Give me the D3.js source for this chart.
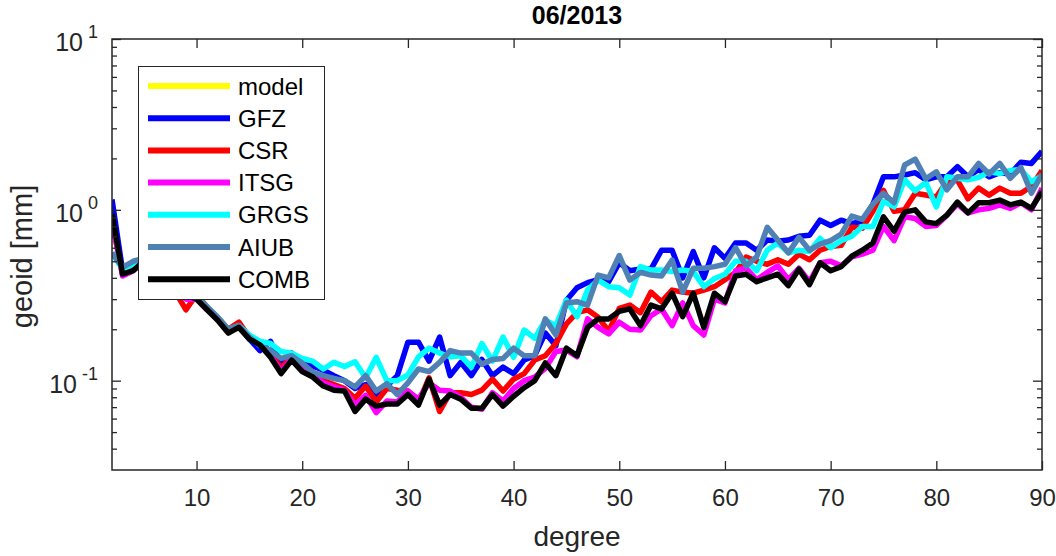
<!DOCTYPE html>
<html>
<head>
<meta charset="utf-8">
<script src="https://cdn.jsdelivr.net/npm/d3@7"></script>
<style>
  body { margin: 0; background: #fff; }
  svg { display: block; font-family: "Liberation Sans", Arial, Helvetica, sans-serif; }
</style>
</head>
<body>
<svg id="chart" width="1056" height="556"></svg>
<script>
// --- data ---
const title = '06/2013';
const xLabel = 'degree';
const yLabel = 'geoid [mm]';

const seriesNames = ['model', 'GFZ', 'CSR', 'ITSG', 'GRGS', 'AIUB', 'COMB'];
const seriesColors = ['#ffff00', '#0000ff', '#ff0000', '#ff00ff', '#00ffff', '#4f81b5', '#000000'];

const firstDegree = 2;          // degree of the first value in each series
const xDomain = [2, 90];
const yDomain = [0.03, 10];
const xTickValues = [10, 20, 30, 40, 50, 60, 70, 80, 90];
const yMajorTicks = [0.1, 1, 10];
const yTickExponents = ['-1', '0', '1'];
const yMinorTicks = [0.04, 0.05, 0.06, 0.07, 0.08, 0.09,
  0.2, 0.3, 0.4, 0.5, 0.6, 0.7, 0.8, 0.9,
  2, 3, 4, 5, 6, 7, 8, 9];

// model is in the legend but no curve of it shows in the figure
const model = [];

const gfz = [
  1.15, 0.44, 0.46, 0.5, 0.5, 0.45, 0.37, 0.31, 0.31, 0.27,
  0.23, 0.2, 0.21, 0.175, 0.15, 0.17, 0.125, 0.145, 0.125, 0.122,
  0.115, 0.107, 0.1, 0.09, 0.095, 0.083, 0.093, 0.107, 0.168, 0.168,
  0.13, 0.18, 0.107, 0.128, 0.107, 0.133, 0.107, 0.12, 0.11, 0.132,
  0.14, 0.19, 0.16, 0.296, 0.35, 0.375, 0.39, 0.38, 0.49, 0.44,
  0.45, 0.45, 0.58, 0.58, 0.40, 0.57, 0.40, 0.6, 0.52, 0.64,
  0.64, 0.58, 0.666, 0.655, 0.666, 0.70, 0.71, 0.87, 0.81, 0.87,
  0.83, 0.86, 1.08, 1.56, 1.56, 1.6, 1.65, 1.5, 1.56, 1.56,
  1.79, 1.56, 1.72, 1.56, 1.65, 1.62, 1.9, 1.87, 2.2
];

const csr = [
  0.85, 0.42, 0.45, 0.5, 0.5, 0.44, 0.33, 0.26, 0.32, 0.27,
  0.235, 0.2, 0.22, 0.18, 0.165, 0.145, 0.118, 0.14, 0.125, 0.112,
  0.1, 0.095, 0.09, 0.079, 0.093, 0.075, 0.09, 0.088, 0.087, 0.074,
  0.104, 0.066, 0.085, 0.085, 0.083, 0.088, 0.102, 0.087, 0.102, 0.11,
  0.132, 0.14, 0.165, 0.215, 0.25, 0.26, 0.235, 0.195, 0.265, 0.277,
  0.25, 0.33, 0.29, 0.339, 0.33, 0.325, 0.339, 0.355, 0.39, 0.43,
  0.53, 0.5, 0.48, 0.51, 0.48, 0.55, 0.51, 0.58, 0.61, 0.62,
  0.79, 0.78, 0.98, 1.3, 0.98, 1.0, 1.25, 1.22, 1.19, 1.47,
  1.49, 1.16, 1.34, 1.22, 1.34, 1.25, 1.25, 1.37, 1.7
];

const itsg = [
  0.88, 0.41, 0.44, 0.5, 0.5, 0.45, 0.36, 0.3, 0.30, 0.26,
  0.23, 0.195, 0.21, 0.178, 0.165, 0.14, 0.113, 0.135, 0.118, 0.108,
  0.097, 0.092, 0.088, 0.072, 0.082, 0.065, 0.076, 0.075, 0.087, 0.078,
  0.097, 0.088, 0.087, 0.08, 0.07, 0.068, 0.085, 0.076, 0.09, 0.1,
  0.105, 0.118, 0.148, 0.151, 0.138, 0.23, 0.205, 0.188, 0.22, 0.2,
  0.198, 0.24, 0.263, 0.21, 0.285, 0.21, 0.185, 0.3, 0.285, 0.44,
  0.455, 0.39, 0.43, 0.47, 0.39, 0.455, 0.38, 0.49, 0.5, 0.47,
  0.53, 0.55, 0.58, 0.8, 0.66, 0.91, 0.89, 0.8, 0.81, 0.93,
  1.08, 0.96, 1.0, 1.02, 1.07, 1.02, 1.1, 1.0, 1.34
];

const grgs = [
  0.56, 0.45, 0.48, 0.5, 0.5, 0.45, 0.37, 0.31, 0.31, 0.27,
  0.235, 0.2, 0.21, 0.185, 0.17, 0.165, 0.148, 0.145, 0.135, 0.13,
  0.117, 0.128, 0.121, 0.129, 0.104, 0.137, 0.1, 0.1, 0.108, 0.138,
  0.155, 0.145, 0.138, 0.14, 0.12, 0.165, 0.13, 0.18, 0.137, 0.198,
  0.177, 0.226, 0.21, 0.296, 0.237, 0.339, 0.388, 0.355, 0.35, 0.317,
  0.465, 0.444, 0.444, 0.435, 0.444, 0.435, 0.355, 0.395, 0.42, 0.5,
  0.5, 0.44, 0.58, 0.64, 0.56, 0.58, 0.57, 0.68, 0.6, 0.66,
  0.7, 0.8, 0.8, 1.12, 1.04, 1.5, 1.29, 1.45, 1.04, 1.56,
  1.53, 1.5, 1.55, 1.67, 1.63, 1.7, 1.72, 1.46, 1.58
];

const aiub = [
  0.56, 0.46, 0.5, 0.52, 0.5, 0.45, 0.37, 0.31, 0.31, 0.27,
  0.235, 0.2, 0.21, 0.18, 0.16, 0.15, 0.135, 0.14, 0.127, 0.112,
  0.107, 0.103, 0.1, 0.092, 0.107, 0.087, 0.096, 0.083, 0.097, 0.117,
  0.113, 0.128, 0.15, 0.145, 0.145, 0.125, 0.133, 0.135, 0.155, 0.14,
  0.14, 0.23, 0.185, 0.285, 0.29, 0.277, 0.415, 0.40, 0.54, 0.388,
  0.43, 0.415, 0.41, 0.508, 0.33, 0.455, 0.455, 0.465, 0.48, 0.6,
  0.47, 0.53, 0.79, 0.666, 0.56, 0.69, 0.58, 0.63, 0.66, 0.72,
  0.92, 0.88, 1.08, 1.25, 1.1, 1.83, 1.98, 1.52, 1.67, 1.31,
  1.56, 1.56, 1.87, 1.62, 1.87, 1.53, 1.77, 1.25, 1.62
];

const comb = [
  0.95, 0.42, 0.44, 0.5, 0.5, 0.45, 0.37, 0.32, 0.30, 0.26,
  0.226, 0.19, 0.205, 0.175, 0.162, 0.137, 0.11, 0.132, 0.113, 0.105,
  0.093, 0.088, 0.087, 0.066, 0.078, 0.071, 0.073, 0.073, 0.083, 0.072,
  0.102, 0.072, 0.083, 0.078, 0.069, 0.069, 0.083, 0.071, 0.081, 0.091,
  0.1, 0.127, 0.107, 0.155, 0.14, 0.205, 0.23, 0.23, 0.255, 0.263,
  0.21, 0.277, 0.263, 0.325, 0.237, 0.325, 0.205, 0.325, 0.29, 0.41,
  0.42, 0.38, 0.40, 0.42, 0.36, 0.45, 0.365, 0.49, 0.44, 0.465,
  0.535, 0.58, 0.64, 0.91, 0.75, 0.97, 1.0, 0.85, 0.83, 0.93,
  1.11, 0.96, 1.1, 1.1, 1.14, 1.07, 1.11, 1.02, 1.28
];

const seriesValues = [model, gfz, csr, itsg, grgs, aiub, comb];

// --- layout ---
const plot = { left: 112, right: 1042, top: 39, bottom: 470 };
const axisColor = '#262626';

const svg = d3.select('#chart');

const x = d3.scaleLinear().domain(xDomain).range([plot.left, plot.right]);
const y = d3.scaleLog().domain(yDomain).range([plot.bottom, plot.top]);

svg.append('clipPath').attr('id', 'plot-clip')
  .append('rect')
  .attr('x', plot.left).attr('y', plot.top)
  .attr('width', plot.right - plot.left)
  .attr('height', plot.bottom - plot.top);

// --- series lines, drawn in legend order (COMB on top) ---
const line = d3.line()
  .x((d, i) => x(firstDegree + i))
  .y(d => y(d));

const linesGroup = svg.append('g').attr('clip-path', 'url(#plot-clip)');

seriesValues.forEach((values, i) => {
  if (!values.length) return;
  linesGroup.append('path')
    .datum(values)
    .attr('fill', 'none')
    .attr('stroke', seriesColors[i])
    .attr('stroke-width', 5.5)
    .attr('stroke-linejoin', 'round')
    .attr('d', line);
});

// --- axes (ticks point inward on all four sides) ---
function styleAxis(g) {
  g.select('.domain').remove();
  g.selectAll('.tick line').attr('stroke', axisColor).attr('stroke-width', 1.3);
}

svg.append('g')
  .attr('transform', `translate(0,${plot.bottom})`)
  .call(d3.axisBottom(x).tickValues(xTickValues).tickSizeInner(-9).tickSizeOuter(0).tickPadding(19))
  .call(styleAxis)
  .call(g => g.selectAll('text')
    .attr('font-family', null)
    .attr('font-size', 24)
    .attr('fill', axisColor));

svg.append('g')
  .attr('transform', `translate(0,${plot.top})`)
  .call(d3.axisTop(x).tickValues(xTickValues).tickSizeInner(-9).tickSizeOuter(0).tickFormat(''))
  .call(styleAxis);

[[d3.axisLeft, plot.left], [d3.axisRight, plot.right]].forEach(([axisFn, pos]) => {
  svg.append('g')
    .attr('transform', `translate(${pos},0)`)
    .call(axisFn(y).tickValues(yMajorTicks).tickSizeInner(-9).tickSizeOuter(0).tickFormat(''))
    .call(styleAxis);
  svg.append('g')
    .attr('transform', `translate(${pos},0)`)
    .call(axisFn(y).tickValues(yMinorTicks).tickSizeInner(-5).tickSizeOuter(0).tickFormat(''))
    .call(styleAxis);
});

// y tick labels as 10^k
yMajorTicks.forEach((v, i) => {
  const t = svg.append('text')
    .attr('x', plot.left - 14)
    .attr('y', y(v) + 12)
    .attr('text-anchor', 'end')
    .attr('font-size', 25)
    .attr('fill', axisColor);
  t.append('tspan').text('10');
  t.append('tspan')
    .attr('dx', 5)
    .attr('dy', -13)
    .attr('font-size', 18)
    .text(yTickExponents[i]);
});

// box
svg.append('rect')
  .attr('x', plot.left).attr('y', plot.top)
  .attr('width', plot.right - plot.left)
  .attr('height', plot.bottom - plot.top)
  .attr('fill', 'none')
  .attr('stroke', axisColor)
  .attr('stroke-width', 1.5);

// --- labels ---
svg.append('text')
  .attr('x', (plot.left + plot.right) / 2)
  .attr('y', 24)
  .attr('text-anchor', 'middle')
  .attr('font-size', 25)
  .attr('font-weight', 'bold')
  .attr('fill', '#000')
  .text(title);

svg.append('text')
  .attr('x', (plot.left + plot.right) / 2)
  .attr('y', 546)
  .attr('text-anchor', 'middle')
  .attr('font-size', 28)
  .attr('fill', axisColor)
  .text(xLabel);

svg.append('text')
  .attr('transform', `translate(32,${(plot.top + plot.bottom) / 2 + 2}) rotate(-90)`)
  .attr('text-anchor', 'middle')
  .attr('font-size', 29)
  .attr('fill', axisColor)
  .text(yLabel);

// --- legend ---
const legend = svg.append('g').attr('class', 'legend');
legend.append('rect')
  .attr('x', 138.5).attr('y', 66.5)
  .attr('width', 186).attr('height', 233)
  .attr('fill', '#fff')
  .attr('stroke', axisColor)
  .attr('stroke-width', 1);

seriesNames.forEach((name, i) => {
  const ly = 86 + i * 32.2;
  legend.append('line')
    .attr('x1', 148).attr('x2', 230)
    .attr('y1', ly).attr('y2', ly)
    .attr('stroke', seriesColors[i])
    .attr('stroke-width', 6);
  legend.append('text')
    .attr('x', 238)
    .attr('y', ly + 8.5)
    .attr('font-size', 24)
    .attr('fill', '#000')
    .text(name);
});
</script>
</body>
</html>
